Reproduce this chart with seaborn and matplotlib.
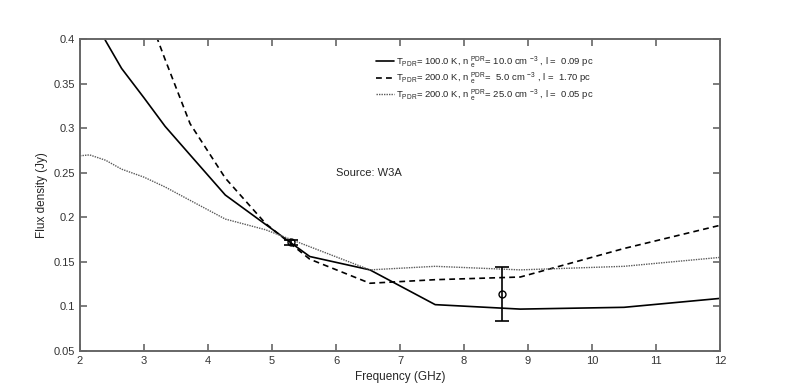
import matplotlib
matplotlib.use('Agg')
import matplotlib.pyplot as plt
import pandas as pd
import seaborn as sns

# model frequency grid (GHz) and flux densities (Jy)
freq = [2.0, 2.15, 2.4, 2.65, 3.0, 3.33, 3.72, 4.27, 4.9, 5.59, 6.53, 7.55, 8.88, 10.5, 12.0]
flux_100K = [0.455, 0.435, 0.398, 0.367, 0.334, 0.302, 0.270, 0.225, 0.192, 0.156, 0.141, 0.102, 0.097, 0.099, 0.109]
flux_200K_n5 = [0.67, 0.63, 0.57, 0.51, 0.44, 0.377, 0.305, 0.244, 0.193, 0.153, 0.126, 0.130, 0.133, 0.165, 0.191]
flux_200K_n25 = [0.269, 0.270, 0.264, 0.254, 0.245, 0.234, 0.219, 0.198, 0.186, 0.167, 0.141, 0.145, 0.141, 0.145, 0.155]

# observed points
obs_freq = [5.3, 8.6]
obs_flux = [0.172, 0.114]
obs_err = [0.003, 0.030]

labels = [
    r'T$_{\mathrm{PDR}}$= 100.0 K, n $_{\mathrm{e}}^{\mathrm{PDR}}$= 10.0 cm $^{-3}$ , l =  0.09 pc',
    r'T$_{\mathrm{PDR}}$= 200.0 K, n $_{\mathrm{e}}^{\mathrm{PDR}}$=  5.0 cm $^{-3}$ , l =  1.70 pc',
    r'T$_{\mathrm{PDR}}$= 200.0 K, n $_{\mathrm{e}}^{\mathrm{PDR}}$= 25.0 cm $^{-3}$ , l =  0.05 pc',
]

sns.set_style('ticks')
plt.rcParams['font.family'] = ['Liberation Sans', 'DejaVu Sans']
plt.rcParams['mathtext.fontset'] = 'custom'
plt.rcParams['mathtext.rm'] = 'Liberation Sans'
plt.rcParams['mathtext.it'] = 'Liberation Sans'

df = pd.DataFrame({'freq': freq, 'a': flux_100K, 'b': flux_200K_n5, 'c': flux_200K_n25})

fig = plt.figure(figsize=(8, 3.89), dpi=100)
ax = fig.add_axes([0.1, 0.0977, 0.8, 0.802])

sns.lineplot(data=df, x='freq', y='a', ax=ax, color='black', linewidth=1.2, label=labels[0])
sns.lineplot(data=df, x='freq', y='b', ax=ax, color='black', linewidth=1.2, linestyle=(0, (3.5, 2.5)), label=labels[1])
sns.lineplot(data=df, x='freq', y='c', ax=ax, color='0.35', linewidth=1.0, linestyle=(0, (1, 0.8)), label=labels[2])

ax.errorbar(obs_freq, obs_flux, yerr=obs_err, fmt='o', mfc='none', mec='black', ms=5,
            ecolor='black', elinewidth=1.2, capsize=5, capthick=1.2, color='black')

ax.text(6.0, 0.25, 'Source: W3A', fontsize=8, va='center', ha='left')

ax.set_xlim(2, 12)
ax.set_ylim(0.05, 0.4)
ax.set_xticks(range(2, 13))
ax.set_yticks([0.05, 0.1, 0.15, 0.2, 0.25, 0.3, 0.35, 0.4])
ax.set_yticklabels(['0.05', '0.1', '0.15', '0.2', '0.25', '0.3', '0.35', '0.4'])
ax.set_xlabel('Frequency (GHz)', fontsize=8.5, color='0.15')
ax.set_ylabel('Flux density (Jy)', fontsize=8.5, color='0.15')
ax.tick_params(direction='in', top=True, right=True, length=5, width=1.2, color='0.4',
               labelsize=8, labelcolor='0.2')
for sp in ax.spines.values():
    sp.set_color('0.4')
    sp.set_linewidth(1.4)

leg = ax.legend(loc='upper left', bbox_to_anchor=(0.457, 0.965), frameon=False, fontsize=6.8,
                handlelength=1.9, handletextpad=0.2, labelspacing=0.1, borderaxespad=0)

fig.savefig('out.png', dpi=100, facecolor='white')
